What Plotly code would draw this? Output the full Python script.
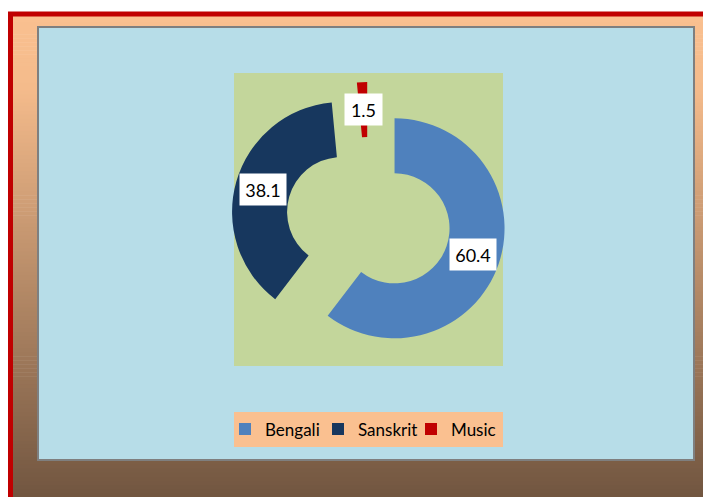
import math
import plotly.graph_objects as go

# Subject shares (percent)
subjects = ["Bengali", "Sanskrit", "Music"]
shares = [60.4, 38.1, 1.5]
slice_colors = ["#4f81bd", "#17375e", "#c00000"]

W, H = 703, 497
FONT = "Lato"


def fx(x):
    return x / W


def fy(y):
    return 1 - y / H


# pie geometry (pixels)
pull = 0.25
hole = 0.5
plot_box = (234, 73, 503, 366)          # green plot area
cx = (plot_box[0] + plot_box[2]) / 2
cy = (plot_box[1] + plot_box[3]) / 2
radius = 110
half = radius * (1 + pull)

shapes = []

# vertical gradient of the chart area
stops = [(16, (250, 192, 144)), (90, (244, 187, 139)), (497, (113, 86, 64))]


def grad_color(y):
    for (y0, c0), (y1, c1) in zip(stops[:-1], stops[1:]):
        if y <= y1:
            t = max(0.0, (y - y0) / (y1 - y0))
            return "rgb(%d,%d,%d)" % tuple(round(a + (b - a) * t) for a, b in zip(c0, c1))
    return "rgb(%d,%d,%d)" % stops[-1][1]


n_strips = 120
top, bottom = 14, 497
step = (bottom - top) / n_strips
for i in range(n_strips):
    y0 = top + i * step
    shapes.append(dict(type="rect", xref="paper", yref="paper", layer="below",
                       x0=fx(10), x1=fx(W + 10), y0=fy(y0), y1=fy(y0 + step + 0.6),
                       fillcolor=grad_color(y0 + step / 2), line=dict(width=0)))

# outer red frame
shapes.append(dict(type="rect", xref="paper", yref="paper", layer="below",
                   x0=fx(10.5), x1=fx(W + 20), y0=fy(14), y1=fy(H + 20),
                   fillcolor="rgba(0,0,0,0)", line=dict(color="#c00000", width=5)))

# light blue panel with grey border
shapes.append(dict(type="rect", xref="paper", yref="paper", layer="below",
                   x0=fx(38), x1=fx(694), y0=fy(27), y1=fy(460),
                   fillcolor="#b7dde8", line=dict(color="#7f7f7f", width=2)))

# green plot area
shapes.append(dict(type="rect", xref="paper", yref="paper", layer="below",
                   x0=fx(plot_box[0]), x1=fx(plot_box[2]),
                   y0=fy(plot_box[3]), y1=fy(plot_box[1]),
                   fillcolor="#c3d69b", line=dict(width=0)))

# legend backdrop
shapes.append(dict(type="rect", xref="paper", yref="paper", layer="below",
                   x0=fx(234), x1=fx(503), y0=fy(447), y1=fy(412),
                   fillcolor="#fac090", line=dict(width=0)))

fig = go.Figure()
fig.add_trace(go.Pie(
    labels=subjects,
    values=shares,
    hole=hole,
    pull=[pull] * len(shares),
    sort=False,
    direction="clockwise",
    rotation=0,
    marker=dict(colors=slice_colors, line=dict(width=0)),
    textinfo="none",
    hoverinfo="label+value",
    domain=dict(x=[fx(cx - half), fx(cx + half)],
                y=[fy(plot_box[3]), fy(plot_box[1])]),
))

# value labels in white boxes at the middle of each ring segment
annotations = []
total = sum(shares)
cum = 0.0
for name, v in zip(subjects, shares):
    theta = math.radians((cum + v / 2) / total * 360)
    cum += v
    dist = (pull + (1 + hole) / 2) * radius
    lx = cx + dist * math.sin(theta)
    ly = cy - dist * math.cos(theta)
    annotations.append(dict(
        x=fx(lx), y=fy(ly), xref="paper", yref="paper",
        text=f"{v:.1f}", showarrow=False,
        font=dict(family=FONT, size=18, color="#000000"),
        bgcolor="#ffffff", width=44 if v >= 10 else 35, height=29,
        xanchor="center", yanchor="middle",
    ))

fig.update_layout(
    width=W, height=H,
    margin=dict(l=0, r=0, t=0, b=0),
    paper_bgcolor="#ffffff",
    shapes=shapes,
    annotations=annotations,
    showlegend=True,
    legend=dict(
        orientation="h",
        x=fx(cx - 4), xanchor="center",
        y=fy(429.5), yanchor="middle",
        bgcolor="rgba(0,0,0,0)",
        font=dict(family=FONT, size=17, color="#000000"),
        entrywidth=48,
        entrywidthmode="pixels",
        traceorder="normal",
    ),
)

fig.write_html("out.html")
